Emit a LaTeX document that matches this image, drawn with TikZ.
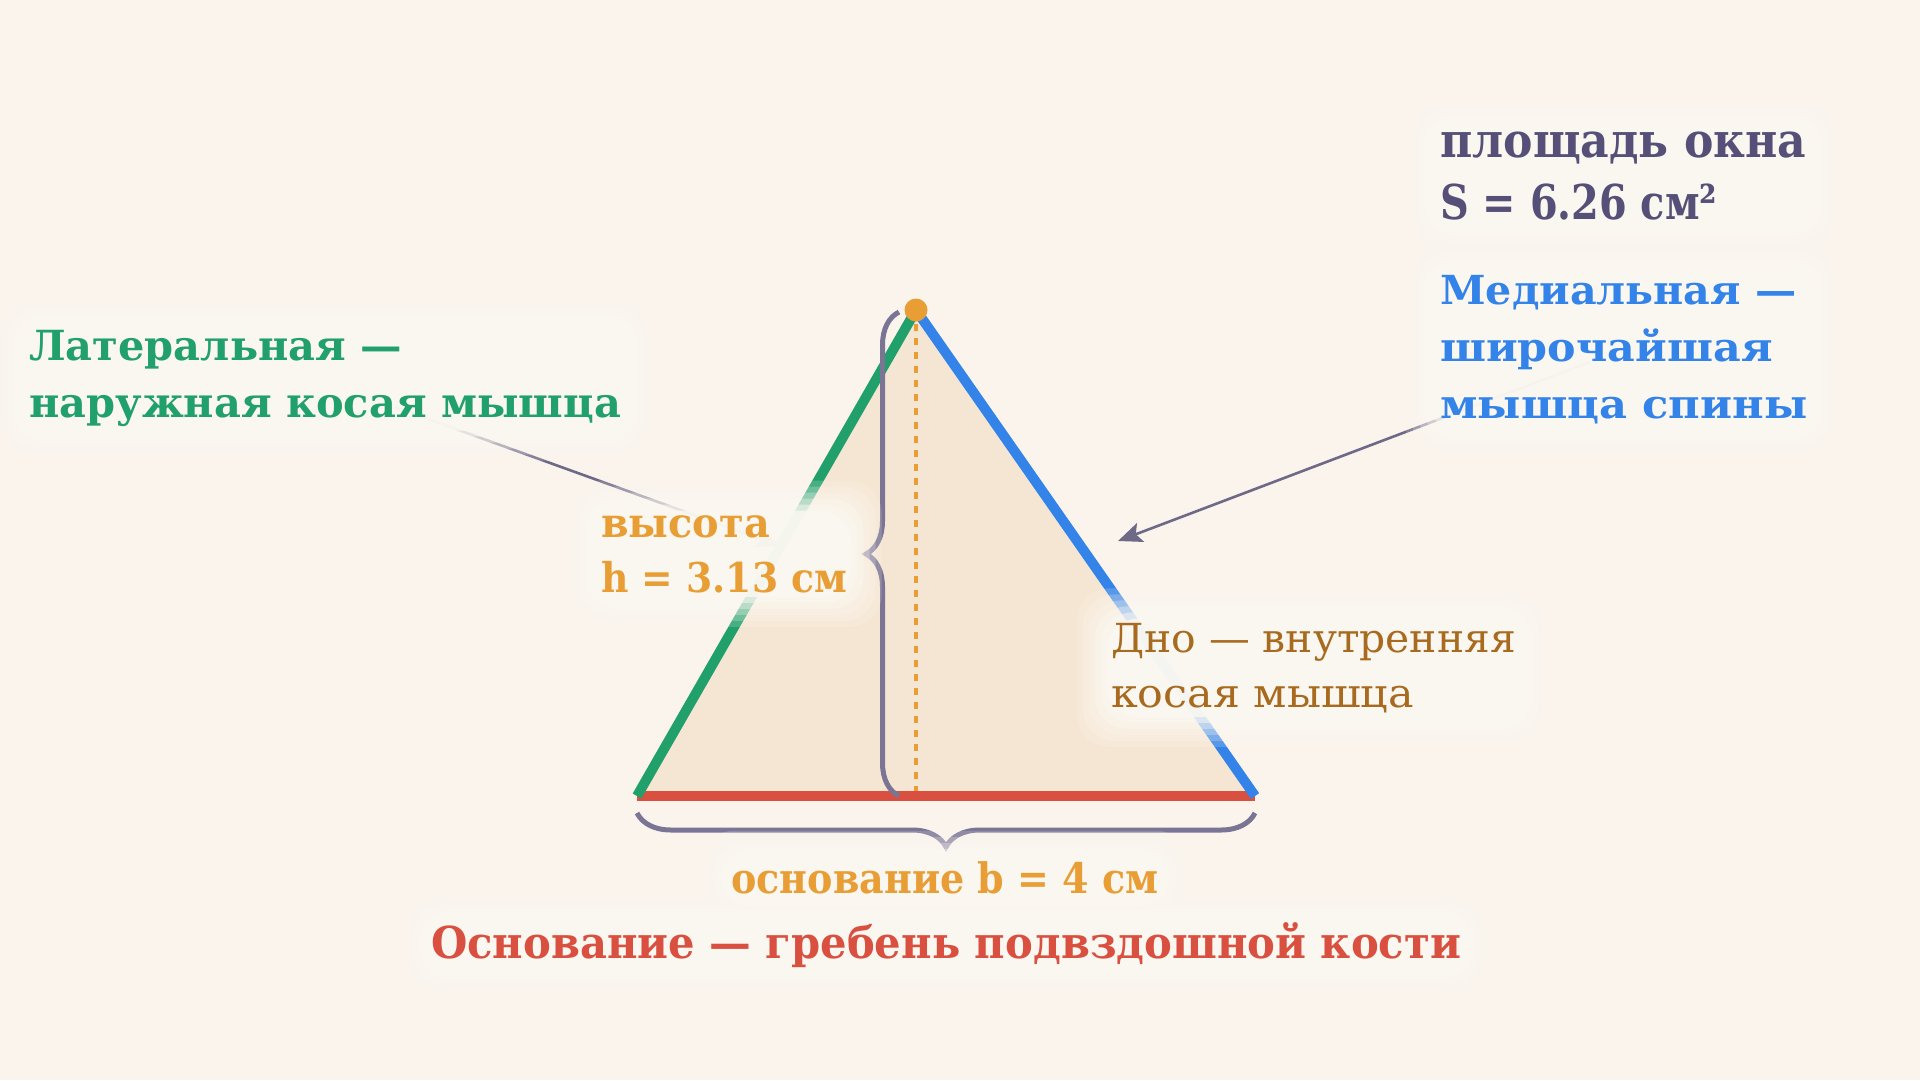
\documentclass[tikz,border=0pt]{standalone}
\usepackage{fontspec}
\setmainfont{DejaVu Serif}
\usetikzlibrary{arrows.meta,decorations.pathreplacing,fit,calc}
\definecolor{bgc}{HTML}{FAF4ED}
\definecolor{halocol}{HTML}{FBF8F2}
\definecolor{trifill}{HTML}{F5E6D3}
\definecolor{cgreen}{HTML}{21A06B}
\definecolor{cblue}{HTML}{3483E8}
\definecolor{cred}{HTML}{D95040}
\definecolor{corange}{HTML}{E89E35}
\definecolor{cbrown}{HTML}{A86A1E}
\definecolor{cslate}{HTML}{565078}
\definecolor{cgrey}{HTML}{7A7595}
\pgfdeclarelayer{bg}
\pgfdeclarelayer{halo}
\pgfsetlayers{bg,halo,main}
\newcommand\halo[1]{%
  \begin{pgfonlayer}{halo}
  \foreach \d/\o in {30/0.18,24/0.22,18/0.28,12/0.35,6/0.5,0/0.8}{
    \fill[halocol,opacity=\o,rounded corners=32pt] ($(#1.north west)+(-\d,-\d)$) rectangle ($(#1.south east)+(\d,\d)$);
  }
  \end{pgfonlayer}}
\tikzset{
  lbl/.style={anchor=base west,inner sep=0pt},
  lblc/.style={anchor=base,inner sep=0pt},
  edge/.style={line width=10pt,line cap=butt},
  leader/.style={draw=cgrey!90!black,line width=2.6pt,-{Stealth[length=24pt,width=20pt,inset=5pt]}},
  bracestyle/.style={draw=cgrey,line width=5pt,decorate,decoration={brace,amplitude=33pt}},
  boxfit/.style={inner sep=4pt},
  areaf/.style={text=cslate,font=\bfseries\fontsize{48}{58}\selectfont},
  medf/.style={text=cblue,font=\bfseries\fontsize{40}{50}\selectfont},
  latf/.style={text=cgreen,font=\bfseries\fontsize{41.5}{50}\selectfont},
  hgtf/.style={text=corange,font=\bfseries\fontsize{41}{50}\selectfont},
  dnof/.style={text=cbrown,font=\fontsize{40}{50}\selectfont},
  osnf/.style={text=corange,font=\bfseries\fontsize{42}{50}\selectfont},
  crestf/.style={text=cred,font=\bfseries\fontsize{44}{54}\selectfont}
}
\begin{document}
\begin{tikzpicture}[x=1pt,y=-1pt]
\useasboundingbox (0,0) rectangle (1920,1080);
\begin{pgfonlayer}{bg}
\fill[bgc] (0,0) rectangle (1920,1080);
\coordinate (A) at (916,310);
\coordinate (B) at (637,796);
\coordinate (C) at (1255,796);
\coordinate (H) at (916,796);
\fill[trifill] (A) -- (B) -- (C) -- cycle;
\draw[corange,line width=3.5pt,dash pattern=on 7pt off 7pt] (A) -- (H);
\draw[cred,edge] (B) -- (C);
\draw[cgreen,edge] (B) -- (A);
\draw[cblue,edge] (A) -- (C);
% height brace
\coordinate (hb1) at (899,796);
\coordinate (hb2) at (899,312);
\draw[bracestyle] (hb1) -- (hb2);
% base brace
\coordinate (bb1) at (1255,813);
\coordinate (bb2) at (637,813);
\draw[bracestyle,decoration={amplitude=34pt}] (bb1) -- (bb2);
\fill[corange] (A) circle (11.5pt);
% leaders
\coordinate (latsrc) at (395,407);
\coordinate (lattip) at (780,546);
\coordinate (medsrc) at (1590,362);
\coordinate (medtip) at (1118,541);
\draw[leader] (latsrc) -- (lattip);
\draw[leader] (medsrc) -- (medtip);
\end{pgfonlayer}
% labels
\node[lbl,areaf,xscale=0.92] (area1) at (1440,157) {площадь окна};
\node[lbl,areaf,xscale=0.83] (area2) at (1440,219) {S = 6.26 см²};
\node[fit=(area1)(area2),boxfit] (areabox) {};
\halo{areabox}
\node[lbl,medf,xscale=1.03] (med1) at (1440,304) {Медиальная —};
\node[lbl,medf,xscale=1.07] (med2) at (1440,361) {широчайшая};
\node[lbl,medf,xscale=1.08] (med3) at (1440,418) {мышца спины};
\node[fit=(med1)(med2)(med3),boxfit] (medbox) {};
\halo{medbox}
\node[lbl,latf,xscale=1.0] (lat1) at (29,360) {Латеральная —};
\node[lbl,latf,xscale=1.0] (lat2) at (29,417) {наружная косая мышца};
\node[fit=(lat1)(lat2),boxfit] (latbox) {};
\halo{latbox}
\node[lbl,hgtf,xscale=0.97] (hgt1) at (601,537) {высота};
\node[lbl,hgtf,xscale=0.92] (hgt2) at (601,592) {h = 3.13 см};
\node[fit=(hgt1)(hgt2),boxfit] (hgtbox) {};
\halo{hgtbox}
\node[lbl,dnof,xscale=1.02] (dno1) at (1111,652) {Дно — внутренняя};
\node[lbl,dnof,xscale=1.07] (dno2) at (1111,707) {косая мышца};
\node[fit=(dno1)(dno2),boxfit] (dnobox) {};
\halo{dnobox}
\node[lblc,osnf,xscale=0.906] (osn) at (945,893) {основание b = 4 см};
\halo{osn}
\node[lblc,crestf,xscale=0.948] (crest) at (946,958) {Основание — гребень подвздошной кости};
\halo{crest}
\end{tikzpicture}
\end{document}
